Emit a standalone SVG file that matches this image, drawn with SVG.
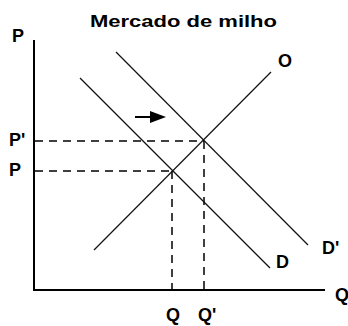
<svg xmlns="http://www.w3.org/2000/svg" width="348" height="326" viewBox="0 0 348 326">
<style>
.t{font-family:"Liberation Sans",Arial,sans-serif;font-weight:bold;font-size:18px;fill:#000}
.ax{stroke:#000;stroke-width:2;fill:none}
.ln{stroke:#111;stroke-width:1.2;fill:none}
.ds{stroke:#000;stroke-width:1.5;fill:none;stroke-dasharray:8 6}
</style>
<rect width="348" height="326" fill="#fff"/>
<text class="t" x="90" y="27" textLength="187" lengthAdjust="spacingAndGlyphs" style="font-size:17px">Mercado de milho</text>
<g id="axes">
<line class="ax" x1="34" y1="40" x2="34" y2="290"/>
<line class="ax" x1="33" y1="290" x2="325" y2="290"/>
<text class="t" x="12" y="42">P</text>
<text class="t" x="335" y="301">Q</text>
</g>
<g id="connectors">
<line class="ds" x1="35" y1="141" x2="204" y2="141"/>
<line class="ds" x1="35" y1="171" x2="172" y2="171"/>
<line class="ds" x1="172" y1="171" x2="172" y2="289"/>
<line class="ds" x1="204" y1="141" x2="204" y2="289"/>
</g>
<g id="curve-D">
<line class="ln" x1="80" y1="78" x2="270" y2="268"/>
<text class="t" x="276" y="268">D</text>
</g>
<g id="curve-D2">
<line class="ln" x1="116" y1="52" x2="308" y2="245"/>
<text class="t" x="322" y="254">D'</text>
</g>
<g id="curve-O">
<line class="ln" x1="94" y1="250" x2="271" y2="72"/>
<text class="t" x="278" y="67">O</text>
</g>
<g id="arrow">
<line x1="135" y1="117" x2="152" y2="117" stroke="#000" stroke-width="2"/>
<polygon points="150,111 166,117 150,123" fill="#000"/>
</g>
<g id="labels">
<text class="t" x="9" y="146">P'</text>
<text class="t" x="9" y="176">P</text>
<text class="t" x="166" y="321">Q</text>
<text class="t" x="198" y="321">Q'</text>
</g>
</svg>
